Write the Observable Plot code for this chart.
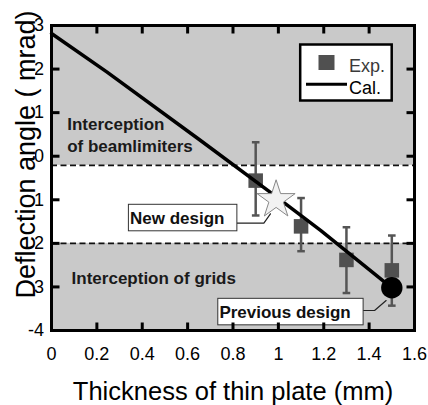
<!DOCTYPE html>
<html><head><meta charset="utf-8">
<script src="https://cdn.jsdelivr.net/npm/d3@7"></script>
<script src="https://cdn.jsdelivr.net/npm/@observablehq/plot@0.6"></script>
<style>body{margin:0;background:#fff;} #chart{position:relative;width:428px;height:405px;}</style>
</head><body><div id="chart"></div>
<script>
const xDomain = [0, 1.6];
const yDomain = [-4, 3];
const xTicks = [0, 0.2, 0.4, 0.6, 0.8, 1, 1.2, 1.4, 1.6];
const xTickLabels = ["0", "0.2", "0.4", "0.6", "0.8", "1", "1.2", "1.4", "1.6"];
const yTicks = [-4, -3, -2, -1, 0, 1, 2, 3];
const yTickLabels = ["-4", "-3", "-2", "-1", "0", "1", "2", "3"];
const xTitle = "Thickness of thin plate (mm)";
const yTitle = "Deflection angle ( mrad)";

// Experimental points with error bars
const expX = [0.9, 1.1, 1.3, 1.5];
const expY = [-0.56, -1.61, -2.38, -2.62];
const expLo = [-1.36, -2.18, -3.14, -3.43];
const expHi = [0.32, -0.96, -1.63, -1.82];

// Calculated curve
const calX = [0, 0.245, 0.657, 0.965, 1.186, 1.5];
const calY = [2.816, 1.93, 0.36, -0.83, -1.70, -3.02];

// Interception regions (shaded) and limits (dashed)
const bandLo = [-0.21, -4];
const bandHi = [3, -2.0];
const limitY = [-0.21, -2.0];
const regionText = ["Interception\nof beamlimiters", "Interception of grids"];
const regionX = [0.069, 0.0886];
const regionY = [0.092, -2.928];

// Design markers and callouts
const designName = ["New design", "Previous design"];
const designX = [0.99, 1.5];
const designY = [-1.0, -3.02];
const calloutX = [0.346, 0.740];
const calloutY = [-1.551, -3.709];
const leaderNewX = [0.818, 0.936, 0.965];
const leaderNewY = [-1.537, -1.537, -1.322];
const leaderPrevX = [1.371, 1.424, 1.475];
const leaderPrevY = [-3.541, -3.541, -3.312];

const legendLabels = ["Exp.", "Cal."];

// ---- build tables
const bands = bandLo.map((lo, i) => ({lo, hi: bandHi[i]}));
const exp = expX.map((x, i) => ({x, y: expY[i], lo: expLo[i], hi: expHi[i]}));
const cal = calX.map((x, i) => ({x, y: calY[i]}));
const regions = regionText.map((t, i) => ({t, x: regionX[i], y: regionY[i]}));
const designs = designName.map((name, i) => ({name, x: designX[i], y: designY[i]}));
const callouts = designName.map((name, i) => ({name, x: calloutX[i], y: calloutY[i]}));
const leaders = [
  ...leaderNewX.map((x, i) => ({g: 0, x, y: leaderNewY[i]})),
  ...leaderPrevX.map((x, i) => ({g: 1, x, y: leaderPrevY[i]}))
];

const tickSym = (dx, dy) => ({draw(ctx) { ctx.moveTo(0, 0); ctx.lineTo(dx, dy); }});
const capSym = {draw(ctx) { ctx.moveTo(-3.8, 0); ctx.lineTo(3.8, 0); }};
const innerX = xTicks.slice(1, -1);
const innerY = yTicks.slice(1, -1);
const font = "'Liberation Sans', Arial, Helvetica, sans-serif";

const chart = Plot.plot({
  width: 428, height: 405,
  marginLeft: 51, marginRight: 14, marginTop: 25, marginBottom: 75,
  style: {fontFamily: font, fontSize: "18px", background: "white", overflow: "visible"},
  x: {domain: xDomain, label: null},
  y: {domain: yDomain, label: null},
  marks: [
    Plot.rectY(bands, {y1: "lo", y2: "hi", fill: "#c9c9c9"}),
    Plot.ruleY(limitY, {stroke: "#111", strokeWidth: 1.7, strokeDasharray: "6,3.5"}),
    Plot.ruleX(exp, {x: "x", y1: "lo", y2: "hi", stroke: "#555", strokeWidth: 2.5}),
    Plot.dot(exp, {x: "x", y: "lo", symbol: capSym, stroke: "#555", strokeWidth: 2.5, fill: "none"}),
    Plot.dot(exp, {x: "x", y: "hi", symbol: capSym, stroke: "#555", strokeWidth: 2.5, fill: "none"}),
    Plot.dot(exp, {x: "x", y: "y", symbol: "square", r: 8.2, fill: "#505050", stroke: "none"}),
    Plot.line(cal, {x: "x", y: "y", stroke: "black", strokeWidth: 3.5}),
    Plot.line(leaders, {x: "x", y: "y", z: "g", stroke: "#222", strokeWidth: 1.2}),
    Plot.dot(designs.filter(d => d.name === "New design"), {x: "x", y: "y", symbol: "star", r: 11.95, fill: "#f2f2f2", stroke: "#888", strokeWidth: 1}),
    Plot.dot(designs.filter(d => d.name === "Previous design"), {x: "x", y: "y", symbol: "circle", r: 10.7, fill: "black", stroke: "none"}),
    Plot.text(regions, {x: "x", y: "y", text: "t", textAnchor: "start", lineAnchor: "bottom", lineHeight: 1.28, fontWeight: "bold", fontSize: 17, fill: "#1a1a1a"}),
    Plot.text(callouts, {x: "x", y: "y", text: "name", textAnchor: "start", lineAnchor: "bottom", fontWeight: "bold", fontSize: 17, fill: "#111"}),
    Plot.frame({stroke: "black", strokeWidth: 3}),
    Plot.dot(innerX, {x: d => d, y: yDomain[0], symbol: tickSym(0, -8), stroke: "black", strokeWidth: 3, fill: "none"}),
    Plot.dot(innerX, {x: d => d, y: yDomain[1], symbol: tickSym(0, 8), stroke: "black", strokeWidth: 3, fill: "none"}),
    Plot.dot(innerY, {y: d => d, x: xDomain[0], symbol: tickSym(8, 0), stroke: "black", strokeWidth: 3, fill: "none"}),
    Plot.dot(innerY, {y: d => d, x: xDomain[1], symbol: tickSym(-8, 0), stroke: "black", strokeWidth: 3, fill: "none"}),
    Plot.axisX({ticks: xTicks, tickSize: 0, tickPadding: 17, fontSize: 18, label: null,
      tickFormat: d => xTickLabels[xTicks.indexOf(d)]}),
    Plot.axisY({ticks: yTicks, tickSize: 0, tickPadding: 7.5, fontSize: 18, label: null,
      tickFormat: d => yTickLabels[yTicks.indexOf(d)]}),
    Plot.text([xTitle], {text: d => d, frameAnchor: "bottom", textAnchor: "middle", dy: 69.5, lineAnchor: "bottom", fontSize: 25.5, fill: "black"}),
    Plot.text([yTitle], {text: d => d, frameAnchor: "left", textAnchor: "middle", rotate: -90, dx: -17, dy: -23.5, lineAnchor: "bottom", fontSize: 27, fill: "black"})
  ]
});

document.getElementById("chart").append(chart);
const svgNode = chart.tagName.toLowerCase() === "svg" ? chart : chart.querySelector("svg");
const svg = d3.select(svgNode);

function backWith(node, pad, styleFn) {
  const b = node.getBBox();
  const r = document.createElementNS("http://www.w3.org/2000/svg", "rect");
  const tf = node.getAttribute("transform");
  if (tf) r.setAttribute("transform", tf);
  r.setAttribute("x", b.x - pad[0]);
  r.setAttribute("y", b.y - pad[1]);
  r.setAttribute("width", b.width + pad[0] + pad[2]);
  r.setAttribute("height", b.height + pad[1] + pad[3]);
  styleFn(r);
  node.parentNode.insertBefore(r, node);
}

svg.selectAll("text").each(function() {
  const t = this.textContent;
  if (designName.includes(t)) {
    backWith(this, [1.6, 4.5, 12.4, 3], r => {
      r.setAttribute("fill", "white"); r.setAttribute("stroke", "#333"); r.setAttribute("stroke-width", 1);
    });
  } else if (t === yTitle) {
    backWith(this, [0, 0, 0, -5.5], r => { r.setAttribute("fill", "white"); });
  }
});

// legend
const lg = svg.append("g").attr("font-family", font).attr("font-size", 18).attr("text-anchor", "start");
lg.append("rect").attr("x", 300.2).attr("y", 44.5).attr("width", 91.5).attr("height", 56)
  .attr("fill", "white").attr("stroke", "black").attr("stroke-width", 2.5);
lg.append("rect").attr("x", 318.5).attr("y", 55).attr("width", 16).attr("height", 15).attr("fill", "#505050");
lg.append("text").attr("x", 349).attr("y", 71.5).attr("fill", "#3a3a3a").text(legendLabels[0]);
lg.append("line").attr("x1", 306).attr("x2", 347).attr("y1", 84.3).attr("y2", 84.3)
  .attr("stroke", "black").attr("stroke-width", 3);
lg.append("text").attr("x", 349).attr("y", 93.5).attr("fill", "black").text(legendLabels[1]);
</script>
</body></html>
